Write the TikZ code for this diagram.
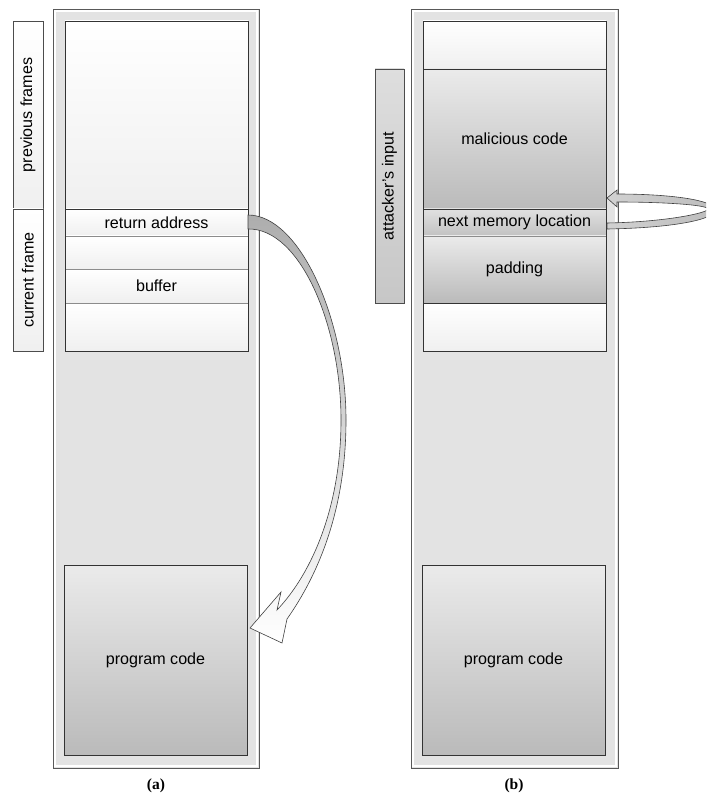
\documentclass[tikz,border=0pt]{standalone}
\usepackage{fontspec}
\setmainfont{Liberation Sans}
\newfontfamily\capfont{Liberation Serif}
\usetikzlibrary{shadows,calc}
\newcommand{\mybox}[7]{\node[#6, minimum width={#4-#2}, minimum height={#5-#3}] (#1) at ({(#2+#4)/2},{(#3+#5)/2}) {#7};}
\tikzset{
  txt/.style={font=\fontsize{16.1}{19}\selectfont},
  shad/.style={drop shadow={shadow xshift=1.3pt, shadow yshift=-1.3pt, opacity=0.35}},
  cell/.style={txt, draw=black!45, line width=0.5pt, inner sep=0pt, outer sep=0pt, shad},
  whitecell/.style={cell, top color=white, bottom color=black!6},
  graycell/.style={cell, top color=black!8, bottom color=black!27},
  midcell/.style={cell, top color=black!12, bottom color=black!24},
  panel/.style={draw=black!65, line width=0.8pt, fill=black!11, inner sep=0pt, outer sep=0pt, shad},
  sidelab/.style={txt, rotate=90, draw=black!70, line width=0.6pt, inner sep=0pt, outer sep=0pt, shad},
  captxt/.style={font=\capfont\bfseries\fontsize{15.5}{18}\selectfont},
  stackline/.style={draw=black!80, line width=0.7pt},
  blockarrow/.style={draw=black!75, line width=0.6pt}
}
\begin{document}
\begin{tikzpicture}[x=1pt,y=-1pt]
\useasboundingbox (0,0) rectangle (706,799);
% ---------- panel (a) ----------
\mybox{panA}{53}{9}{259}{768}{panel}{}
\draw[white, line width=1.4pt] ([xshift=2pt,yshift=-2pt]panA.north west) rectangle ([xshift=-2pt,yshift=2pt]panA.south east);
\mybox{prevA}{65}{21}{248}{209}{whitecell}{}
\mybox{retA}{65}{209}{248}{236}{whitecell}{return address}
\mybox{rowA}{65}{236}{248}{269}{whitecell}{}
\mybox{bufA}{65}{269}{248}{303}{whitecell}{buffer}
\mybox{lowA}{65}{303}{248}{351}{whitecell}{}
\draw[stackline] (prevA.north west) rectangle (lowA.south east);
\draw[stackline] (prevA.south west) -- (prevA.south east);
\mybox{progA}{64}{565}{247}{755}{graycell}{program code}
\draw[stackline] (progA.north west) rectangle (progA.south east);
\node[sidelab, top color=white, bottom color=black!6, minimum width=188, minimum height=30] (labPrev) at (28,115) {previous frames};
\node[sidelab, top color=white, bottom color=black!6, minimum width=142, minimum height=30] (labCur) at (28,280) {current frame};
\node[captxt] (capA) at (156,786) {(a)};
% ---------- panel (b) ----------
\mybox{panB}{411}{9}{618}{768}{panel}{}
\draw[white, line width=1.4pt] ([xshift=2pt,yshift=-2pt]panB.north west) rectangle ([xshift=-2pt,yshift=2pt]panB.south east);
\mybox{topB}{423}{21}{606}{69}{whitecell}{}
\mybox{malB}{423}{69}{606}{209}{graycell}{malicious code}
\mybox{nmlB}{423}{209}{606}{236}{midcell}{next memory location}
\mybox{padB}{423}{236}{606}{303}{graycell}{padding}
\mybox{botB}{423}{303}{606}{351}{whitecell}{}
\draw[stackline] (topB.north west) rectangle (botB.south east);
\draw[stackline] (malB.north west) -- (malB.north east);
\draw[stackline] (malB.south west) -- (malB.south east);
\draw[stackline] (padB.south west) -- (padB.south east);
\mybox{progB}{422}{565}{605}{755}{graycell}{program code}
\draw[stackline] (progB.north west) rectangle (progB.south east);
\node[sidelab, top color=black!13, bottom color=black!22, minimum width=234, minimum height=29] (labAtt) at (389.5,186) {attacker's input};
\node[captxt] (capB) at (514,786) {(b)};
% ---------- arrow (a): return address -> program code ----------
\path[blockarrow, top color=black!32, bottom color=white]
  ($(retA.east)+(0,-7.5)$) .. controls (300,215) and (346,320) .. (346,420)
  .. controls (346,510) and (318,575) .. (287,619)
  -- (282,643) -- ($(progA.east)+(3,-32)$) -- (281,592) -- (277,610)
  .. controls (313,572) and (341,505) .. (341,420)
  .. controls (341,325) and (300,228) .. ($(retA.east)+(0,6.5)$) -- cycle;
% ---------- arrow (b): next memory location -> malicious code ----------
\begin{scope}
\clip (0,0) rectangle (706,799);
\path[blockarrow, left color=black!18, right color=black!26]
  ($(nmlB.east)+(1,6.5)$) .. controls (670,228) and (715,220) .. (715,210)
  .. controls (715,200) and (670,194) .. (617,194)
  -- (617,190) -- ($(malB.south east)+(1,-11)$) -- (617,207) -- (617,202)
  .. controls (665,202) and (708,205) .. (708,209)
  .. controls (708,213) and (665,222) .. ($(nmlB.east)+(1,0.5)$) -- cycle;
\end{scope}
\end{tikzpicture}
\end{document}
